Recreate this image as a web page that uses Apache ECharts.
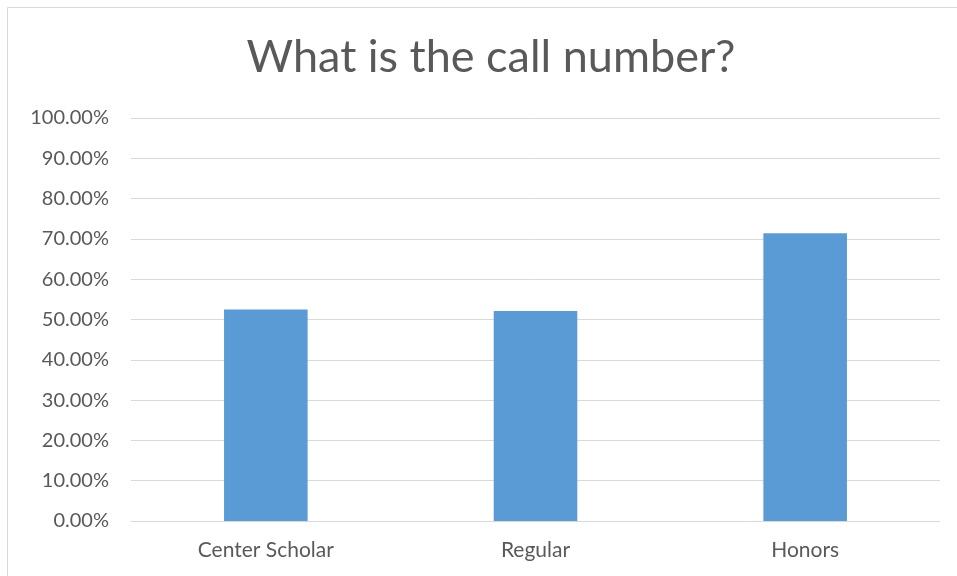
<!DOCTYPE html>
<html><head><meta charset="utf-8">
<script src="https://cdn.jsdelivr.net/npm/echarts@6/dist/echarts.min.js"></script>
<style>html,body{margin:0;padding:0;background:#fff}#c{width:957px;height:576px}</style>
</head><body><div id="c"></div>
<script>
const categories = ['Center Scholar', 'Regular', 'Honors'];
const values = [0.525, 0.521, 0.714];
const yTicks = [0, 0.1, 0.2, 0.3, 0.4, 0.5, 0.6, 0.7, 0.8, 0.9, 1.0];
const titleText = 'What is the call number?';

const chart = echarts.init(document.getElementById('c'), null, {renderer: 'canvas'});
chart.setOption({
  backgroundColor: '#fff',
  animation: false,
  graphic: [{type: 'rect', shape: {x: 7.5, y: 7.5, width: 1000, height: 1000}, style: {fill: 'none', stroke: '#d9d9d9', lineWidth: 1}, silent: true, z: -1}],
  title: {text: titleText, left: 486, top: 30, textAlign: 'center',
    textStyle: {fontFamily: 'Lato', fontSize: 45, fontWeight: 'normal', color: '#595959'}},
  grid: {left: 131, right: 17, top: 118, bottom: 55, containLabel: false},
  xAxis: {type: 'category', data: categories,
    axisLine: {lineStyle: {color: '#d9d9d9', width: 1}}, axisTick: {show: false},
    axisLabel: {color: '#595959', fontFamily: 'Lato', fontSize: 21, margin: 19}},
  yAxis: {type: 'value', min: yTicks[0], max: yTicks[yTicks.length - 1], interval: 0.1,
    axisLine: {show: false}, axisTick: {show: false},
    splitLine: {lineStyle: {color: '#d9d9d9', width: 1}},
    axisLabel: {color: '#595959', fontFamily: 'Lato', fontSize: 20, margin: 22,
      formatter: v => (v * 100).toFixed(2) + '%'}},
  series: [{type: 'bar', data: values, barWidth: '31%',
    itemStyle: {color: '#5b9bd5'}}]
});
</script></body></html>
